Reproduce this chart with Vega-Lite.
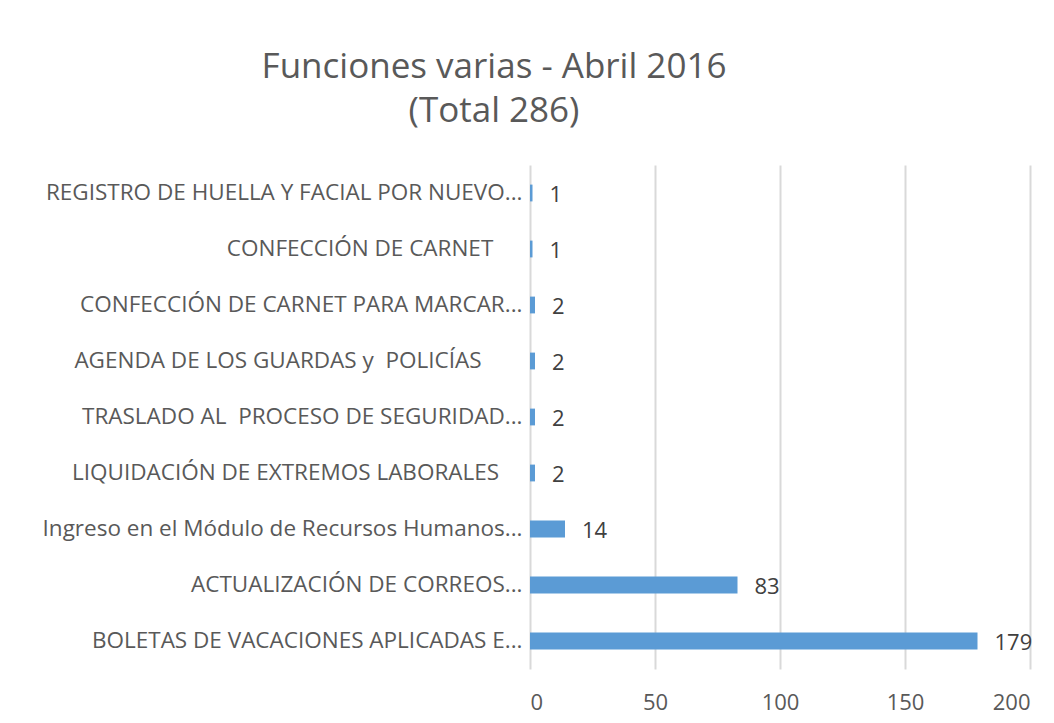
{
  "$schema": "https://vega.github.io/schema/vega-lite/v6.json",
  "autosize": {"type": "none"},
  "width": 500,
  "height": 504,
  "padding": {"left": 530, "top": 165, "right": 24, "bottom": 54},
  "background": "white",
  "title": {
    "text": ["Funciones varias - Abril 2016", "(Total 286)"],
    "anchor": "middle",
    "dx": -286,
    "offset": 36,
    "fontSize": 35,
    "lineHeight": 44,
    "font": "Open Sans",
    "fontWeight": "normal",
    "color": "#595959"
  },
  "data": {
    "values": [
      {"funcion": "REGISTRO DE HUELLA Y FACIAL POR NUEVO...", "cantidad": 1},
      {"funcion": "CONFECCIÓN DE CARNET\u00a0\u00a0\u00a0\u00a0\u00a0\u200b", "cantidad": 1},
      {"funcion": "CONFECCIÓN DE CARNET PARA MARCAR...", "cantidad": 2},
      {"funcion": "AGENDA DE LOS GUARDAS y \u00a0POLICÍAS\u00a0\u00a0\u00a0\u00a0\u00a0\u00a0\u00a0\u200b", "cantidad": 2},
      {"funcion": "TRASLADO AL \u00a0PROCESO DE SEGURIDAD...", "cantidad": 2},
      {"funcion": "LIQUIDACIÓN DE EXTREMOS LABORALES\u00a0\u00a0\u00a0\u00a0\u200b", "cantidad": 2},
      {"funcion": "Ingreso en el Módulo de Recursos Humanos...", "cantidad": 14},
      {"funcion": "ACTUALIZACIÓN DE CORREOS...", "cantidad": 83},
      {"funcion": "BOLETAS DE VACACIONES APLICADAS E...", "cantidad": 179}
    ]
  },
  "encoding": {
    "y": {
      "field": "funcion",
      "type": "nominal",
      "sort": null,
      "title": null,
      "scale": {"paddingInner": 0.7, "paddingOuter": 0.35},
      "axis": {
        "domain": false,
        "ticks": false,
        "labelPadding": 8,
        "labelLimit": 0,
        "labelFont": "Open Sans",
        "labelFontSize": 22.5,
        "labelColor": "#595959"
      }
    },
    "x": {
      "field": "cantidad",
      "type": "quantitative",
      "title": null,
      "scale": {"domain": [0, 200], "nice": false},
      "axis": {
        "values": [0, 50, 100, 150, 200],
        "domain": false,
        "ticks": false,
        "grid": true,
        "gridColor": "#d9d9d9",
        "gridWidth": 2,
        "labelPadding": 23,
        "labelFont": "Open Sans",
        "labelFontSize": 22,
        "labelColor": "#595959"
      }
    }
  },
  "layer": [
    {"mark": {"type": "bar", "color": "#5B9BD5"}},
    {
      "mark": {
        "type": "text",
        "align": "left",
        "baseline": "middle",
        "dx": 17,
        "dy": 2,
        "font": "Open Sans",
        "fontSize": 22,
        "color": "#404040"
      },
      "encoding": {"text": {"field": "cantidad", "type": "quantitative"}}
    }
  ],
  "config": {"view": {"stroke": null}}
}
